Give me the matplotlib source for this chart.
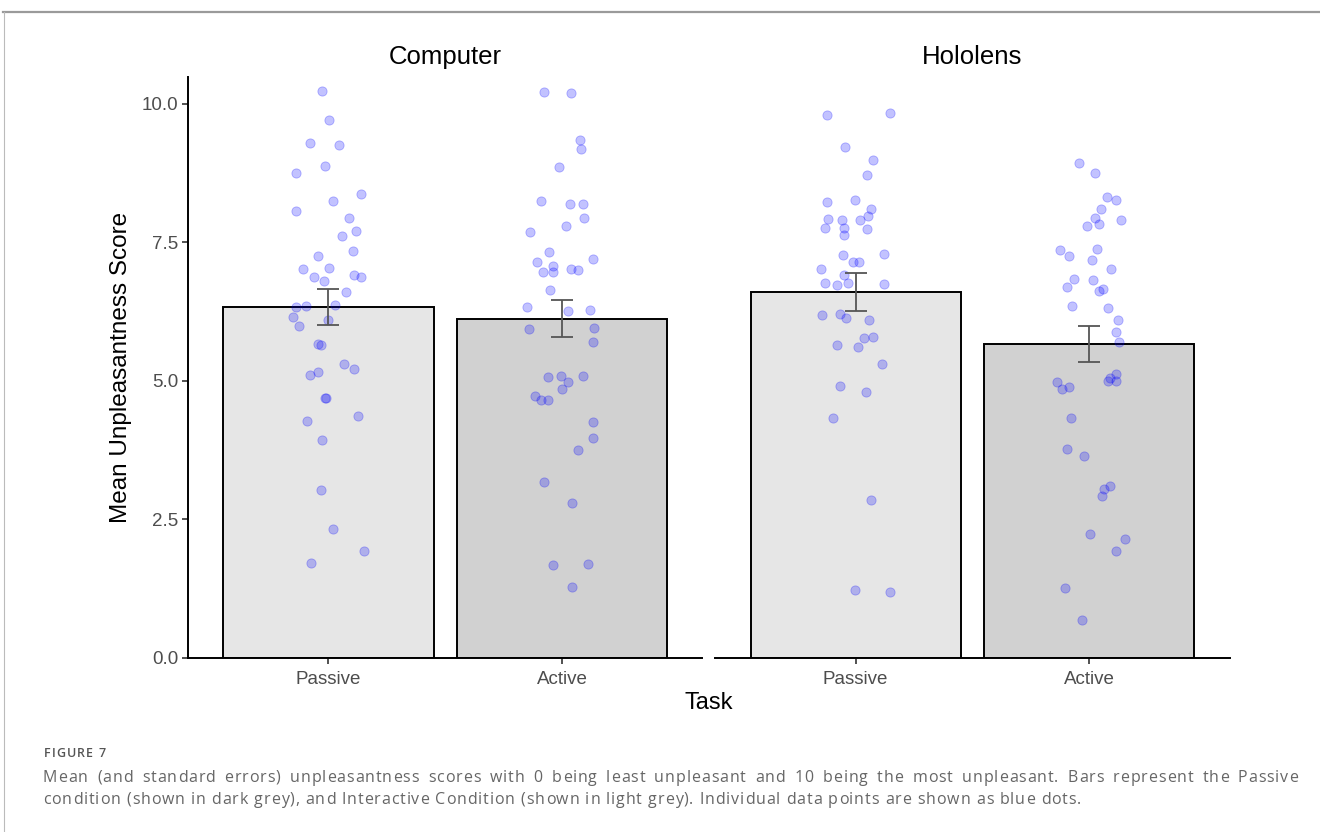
import matplotlib
matplotlib.use("Agg")
import matplotlib.pyplot as plt
from matplotlib.lines import Line2D
from matplotlib import font_manager
from matplotlib.font_manager import FontProperties
from matplotlib.ft2font import FT2Font
import numpy as np

plt.rcParams["font.family"] = ["Liberation Sans", "DejaVu Sans"]

# panels / tasks
devices = ["Computer", "Hololens"]
tasks = ["Passive", "Active"]

# bar means and standard errors
means = {"Computer": [6.33, 6.12], "Hololens": [6.60, 5.66]}
ses = {"Computer": [0.32, 0.33], "Hololens": [0.34, 0.33]}

# individual scores (y) and horizontal jitter (x offset in category units)
computer_passive_y = [10.23, 9.71, 9.30, 9.26, 8.88, 8.75, 8.37, 8.25, 8.07, 7.94, 7.71,
                      7.62, 7.34, 7.25, 7.02, 7.04, 6.87, 6.80, 6.91, 6.87, 6.60, 6.33,
                      6.35, 6.37, 6.15, 5.99, 6.10, 5.66, 5.65, 5.30, 5.21, 5.16, 5.10,
                      4.69, 4.69, 4.36, 4.27, 3.93, 3.03, 2.32, 1.92, 1.71]
computer_passive_jit = [-0.026, 0.004, -0.081, 0.043, -0.013, -0.141, 0.141, 0.021, -0.137,
                        0.086, 0.116, 0.056, 0.107, -0.047, -0.107, 0.004, -0.064, -0.021,
                        0.111, 0.141, 0.073, -0.141, -0.098, 0.030, -0.150, -0.128, 0.0,
                        -0.047, -0.030, 0.068, 0.111, -0.047, -0.081, -0.017, -0.009,
                        0.128, -0.094, -0.026, -0.034, 0.021, 0.150, -0.073]

computer_active_y = [10.22, 10.20, 9.35, 9.19, 8.86, 8.25, 8.19, 8.19, 7.94, 7.80, 7.69,
                     7.33, 7.15, 7.07, 7.20, 6.96, 6.96, 7.02, 7.00, 6.64, 6.33, 6.26,
                     6.28, 5.93, 5.95, 5.70, 5.07, 5.09, 4.98, 5.09, 4.85, 4.72, 4.65,
                     4.65, 4.25, 3.97, 3.75, 3.17, 2.79, 1.67, 1.69, 1.27]
computer_active_jit = [-0.077, 0.039, 0.077, 0.081, -0.013, -0.090, 0.034, 0.090, 0.094,
                       0.017, -0.137, -0.056, -0.107, -0.039, 0.133, -0.081, -0.039, 0.039,
                       0.068, -0.051, -0.150, 0.026, 0.120, -0.141, 0.137, 0.133, -0.060,
                       -0.004, 0.026, 0.090, 0.0, -0.116, -0.090, -0.060, 0.133, 0.133,
                       0.068, -0.077, 0.043, -0.039, 0.111, 0.043]

hololens_passive_y = [9.80, 9.84, 9.22, 8.99, 8.72, 8.23, 8.27, 8.10, 7.98, 7.92, 7.90,
                      7.90, 7.76, 7.76, 7.74, 7.63, 7.27, 7.29, 7.15, 7.15, 7.02, 6.91,
                      6.77, 6.73, 6.77, 6.75, 6.19, 6.21, 6.13, 6.10, 5.77, 5.79, 5.65,
                      5.61, 5.30, 4.91, 4.80, 4.33, 2.85, 1.22, 1.18]
hololens_passive_jit = [-0.124, 0.146, -0.047, 0.073, 0.047, -0.124, -0.004, 0.064, 0.051,
                        -0.120, -0.060, 0.017, -0.133, -0.051, 0.047, -0.051, -0.056, 0.120,
                        -0.013, 0.013, -0.150, -0.051, -0.133, -0.081, -0.034, 0.120,
                        -0.146, -0.068, -0.043, 0.056, 0.034, 0.073, -0.081, 0.009, 0.111,
                        -0.068, 0.043, -0.098, 0.064, -0.004, 0.146]

hololens_active_y = [8.93, 8.75, 8.32, 8.27, 8.10, 7.94, 7.83, 7.90, 7.80, 7.36, 7.25,
                     7.38, 7.18, 7.02, 6.84, 6.69, 6.82, 6.62, 6.66, 6.35, 6.31, 6.10,
                     5.88, 5.70, 4.98, 4.85, 4.89, 5.00, 5.05, 5.12, 5.00, 4.33, 3.77,
                     3.64, 3.10, 3.04, 2.92, 2.23, 2.14, 1.92, 1.26, 0.68]
hololens_active_jit = [-0.043, 0.026, 0.077, 0.116, 0.051, 0.026, 0.043, 0.137, -0.009,
                       -0.124, -0.086, 0.034, 0.013, 0.094, -0.064, -0.094, 0.017, 0.043,
                       0.060, -0.073, 0.081, 0.124, 0.116, 0.128, -0.137, -0.116, -0.086,
                       0.081, 0.090, 0.116, 0.116, -0.077, -0.094, -0.021, 0.090, 0.064,
                       0.056, 0.004, 0.154, 0.116, -0.103, -0.030]

points = {
    "Computer": [(computer_passive_y, computer_passive_jit), (computer_active_y, computer_active_jit)],
    "Hololens": [(hololens_passive_y, hololens_passive_jit), (hololens_active_y, hololens_active_jit)],
}

bar_colors = ["#E6E6E6", "#D1D1D1"]

caption_label = "FIGURE 7"
caption_line1 = ("Mean (and standard errors) unpleasantness scores with 0 being least unpleasant "
                 "and 10 being the most unpleasant. Bars represent the Passive")
caption_line2 = ("condition (shown in dark grey), and Interactive Condition (shown in light grey). "
                 "Individual data points are shown as blue dots.")

W, H = 1320, 832
DPI = 100
fig = plt.figure(figsize=(W / DPI, H / DPI), dpi=DPI)


def fx(px):
    return px / W


def fy(py):
    return 1 - py / H


panel_left = [188.3, 715.5]
panel_w = 514.0
top_px, bottom_px = 76.7, 657.5

for i, dev in enumerate(devices):
    ax = fig.add_axes([fx(panel_left[i]), fy(bottom_px), panel_w / W, (bottom_px - top_px) / H])
    xs = np.arange(1, len(tasks) + 1)
    ax.bar(xs, means[dev], width=0.9, color=bar_colors, edgecolor="black", linewidth=1.4, zorder=1)
    for j, (yv, jit) in enumerate(points[dev]):
        ax.scatter(xs[j] + np.array(jit), yv, s=44, facecolor=(0, 0, 1, 0.24),
                   edgecolor=(0, 0, 1, 0.28), linewidth=0.6, zorder=3)
    ax.errorbar(xs, means[dev], yerr=ses[dev], fmt="none", ecolor="#555555",
                elinewidth=1.3, capsize=8.2, capthick=1.3, zorder=4)
    ax.set_xlim(0.4, 2.6)
    ax.set_ylim(0, 10.49)
    ax.set_xticks(xs)
    ax.set_xticklabels(tasks)
    for s in ["top", "right"]:
        ax.spines[s].set_visible(False)
    ax.spines["bottom"].set_linewidth(1.4)
    ax.spines["left"].set_linewidth(1.4)
    ax.tick_params(axis="x", length=4, width=1.2, color="#333333", labelsize=13.5,
                   labelcolor="#4D4D4D", pad=6)
    ax.tick_params(axis="y", length=4.3, width=1.2, color="#333333", labelsize=13.5,
                   labelcolor="#4D4D4D", pad=3)
    ax.set_yticks([0, 2.5, 5, 7.5, 10])
    ax.set_yticklabels(["0.0", "2.5", "5.0", "7.5", "10.0"])
    if i == 1:
        ax.spines["left"].set_visible(False)
        ax.tick_params(axis="y", left=False, labelleft=False)
    fig.text(fx(panel_left[i] + panel_w / 2), fy(57), dev, ha="center", va="center",
             fontsize=18.5, color="black")

fig.text(fx(121), fy((top_px + bottom_px) / 2), "Mean Unpleasantness Score", rotation=90,
         ha="center", va="center", fontsize=17.5)
fig.text(fx(709), fy(703), "Task", ha="center", va="center", fontsize=17)

# frame lines of the figure box
fig.add_artist(Line2D([fx(3), 1], [fy(11.7), fy(11.7)], color="#9A9A9A", linewidth=1.6))
fig.add_artist(Line2D([fx(3.5), fx(3.5)], [fy(11.7), 0], color="#BBBBBB", linewidth=0.8))

# caption: the journal font is letter-spaced, so glyphs are placed one by one
cap_family = "Open Sans"


def advances(text, size, weight):
    path = font_manager.findfont(FontProperties(family=cap_family, weight=weight))
    font = FT2Font(path)
    font.set_size(size, DPI)
    return [font.load_char(ord(c)).linearHoriAdvance / 65536.0 for c in text]


def tracked(text, x0, ypx, size, color, weight="normal", track=None, natural=None, right=None):
    adv = advances(text, size, weight)
    base = sum(adv)
    if track is None:
        track = (natural - base) / (len(text) - 1)
    extra = 0.0
    if right is not None:
        extra = (right - x0 - base - track * (len(text) - 1)) / text.count(" ")
    x = x0
    for c, a in zip(text, adv):
        if c != " ":
            fig.text(fx(x), fy(ypx), c, ha="left", va="baseline", fontsize=size,
                     family=[cap_family, "DejaVu Sans"], color=color, fontweight=weight)
        x += a + track + (extra if c == " " else 0.0)
    return track


tracked(caption_label, 44, 757, 9, "#555555", weight="semibold", track=1.0)
trk = tracked(caption_line1, 43, 782, 11.5, "#666666", natural=1190, right=1298)
tracked(caption_line2, 43, 804, 11.5, "#666666", track=trk)

fig.savefig("out.png", dpi=DPI)
